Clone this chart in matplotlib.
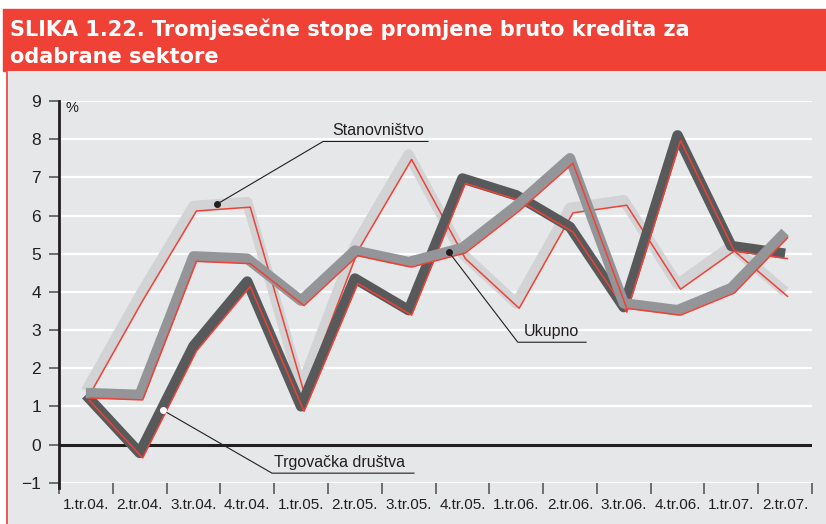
import numpy as np
import matplotlib
matplotlib.use('Agg')
import matplotlib.pyplot as plt
from matplotlib.patches import Rectangle
from matplotlib.transforms import offset_copy

plt.rcParams['font.family'] = ['Liberation Sans', 'DejaVu Sans']

# Data
quarters = ['1.tr.04.', '2.tr.04.', '3.tr.04.', '4.tr.04.', '1.tr.05.', '2.tr.05.', '3.tr.05.',
            '4.tr.05.', '1.tr.06.', '2.tr.06.', '3.tr.06.', '4.tr.06.', '1.tr.07.', '2.tr.07.']
stanovnistvo = [1.4, 3.9, 6.25, 6.35, 1.5, 5.2, 7.6, 5.0, 3.7, 6.2, 6.4, 4.2, 5.2, 4.0]
ukupno = [1.35, 1.3, 4.93, 4.87, 3.77, 5.08, 4.78, 5.15, 6.25, 7.5, 3.7, 3.52, 4.1, 5.56]
trgovacka = [1.3, -0.22, 2.58, 4.27, 1.0, 4.35, 3.52, 6.97, 6.53, 5.7, 3.6, 8.1, 5.2, 5.0]

RED = '#EF4136'
BG = '#E6E7E8'

fig = plt.figure(figsize=(8.26, 5.24), dpi=100)
W, H = 826, 524

# title banner and panel
fig.patches.append(Rectangle((3 / W, 1 - 71 / H), 1, 62 / H, transform=fig.transFigure,
                             color=RED, zorder=-2))
fig.patches.append(Rectangle((6 / W, 0), 1, 1 - 71 / H, transform=fig.transFigure,
                             facecolor=BG, edgecolor='none', zorder=-2))
fig.lines.append(plt.Line2D([6.5 / W, 6.5 / W], [0, 1 - 71 / H], transform=fig.transFigure,
                            color=RED, lw=1.2, zorder=-1))
fig.text(10 / W, 1 - 36 / H, 'SLIKA 1.22. Tromjesečne stope promjene bruto kredita za',
         color='white', fontsize=15, fontweight='bold', va='baseline', family='DejaVu Sans')
fig.text(10 / W, 1 - 63 / H, 'odabrane sektore',
         color='white', fontsize=15, fontweight='bold', va='baseline', family='DejaVu Sans')

ax = fig.add_axes([59 / W, 41.3 / H, (812 - 59) / W, (482.7 - 101) / H])
ax.set_zorder(1)
ax.set_facecolor('none')
x = np.arange(len(quarters))

# thick grey lines with a thin red line shifted down-right
red_tr = offset_copy(ax.transData, fig=fig, x=3, y=-5, units='dots')
series = [(stanovnistvo, '#D1D3D4'), (trgovacka, '#58595B'), (ukupno, '#939598')]
for k, (vals, col) in enumerate(series):
    ax.plot(x, vals, color=col, lw=7.5, solid_capstyle='butt', solid_joinstyle='round',
            zorder=3 + 2 * k)
    ax.plot(x, vals, color=RED, lw=1.1, transform=red_tr, solid_capstyle='butt',
            zorder=4 + 2 * k)

ax.set_xlim(-0.5, len(quarters) - 0.5)
ax.set_ylim(-1, 9)
ax.set_yticks(range(-1, 10))
ax.set_yticklabels(['\u22121'] + [str(v) for v in range(0, 10)])
for v in range(-1, 10):
    if v == 0:
        ax.axhline(0, color='#231F20', lw=2.2, zorder=2)
    else:
        ax.axhline(v, color='white', lw=1.6, zorder=1)

ax.set_xticks(np.arange(-0.5, len(quarters)), labels=[])
ax.set_xticks(x, labels=quarters, minor=True)
ax.tick_params(axis='x', which='major', length=8, width=1.2, color='#58595B', direction='out')
ax.tick_params(axis='x', which='minor', length=0, pad=11, labelsize=11, labelcolor='#231F20')
ax.tick_params(axis='y', length=7, width=1.2, color='#58595B', pad=6, labelsize=12.5,
               labelcolor='#231F20')
for s in ['top', 'right', 'bottom']:
    ax.spines[s].set_visible(False)
ax.spines['left'].set_color('#231F20')
ax.spines['left'].set_linewidth(2)
ax.spines['left'].set_bounds(-1.15, 9)

ax.text(-0.38, 8.82, '%', fontsize=10.5, color='#231F20', va='center')

# labels with leader lines
ax.plot([2.44, 4.41, 6.36], [6.3, 7.94, 7.94], color='#231F20', lw=0.8, zorder=10)
ax.plot(2.44, 6.3, 'o', color='#231F20', ms=4, zorder=11)
ax.text(5.43, 8.02, 'Stanovništvo', fontsize=11.5, ha='center', va='bottom', color='#231F20')

ax.plot([6.75, 8.03, 9.3], [5.04, 2.68, 2.68], color='#231F20', lw=0.8, zorder=10)
ax.plot(6.75, 5.04, 'o', color='#231F20', ms=4, zorder=11)
ax.text(8.65, 2.76, 'Ukupno', fontsize=11.5, ha='center', va='bottom', color='#231F20')

ax.plot([1.43, 3.46, 6.1], [0.9, -0.75, -0.75], color='#231F20', lw=0.8, zorder=10)
ax.plot(1.43, 0.9, 'o', color='white', ms=4, zorder=11)
ax.text(4.72, -0.67, 'Trgovačka društva', fontsize=11.5, ha='center', va='bottom',
        color='#231F20')

fig.savefig('out.png', dpi=100)
